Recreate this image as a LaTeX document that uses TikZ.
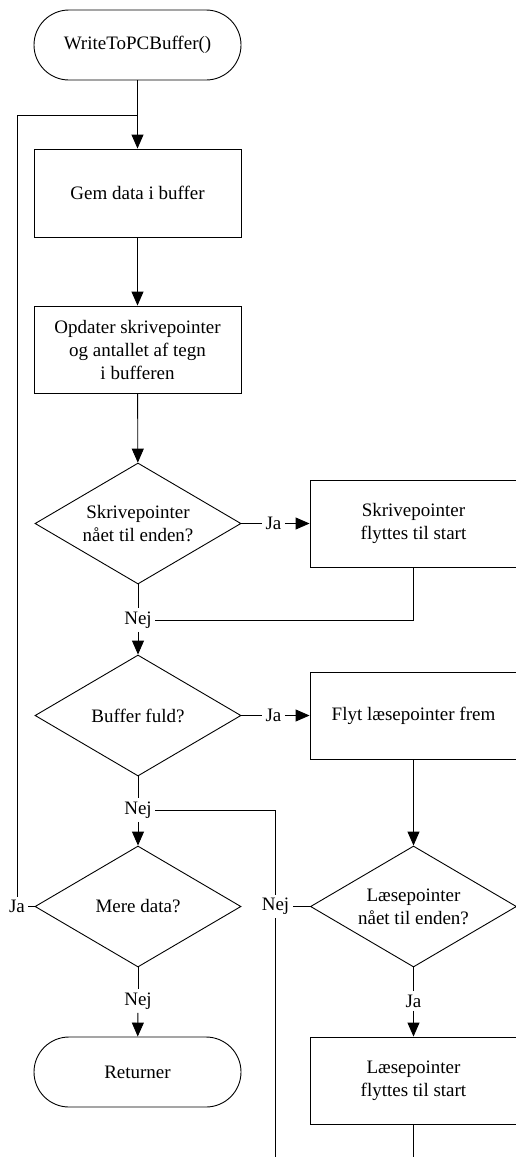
\documentclass[tikz,border=0pt]{standalone}
\usepackage{fontspec}
\setmainfont{Liberation Serif}
\usetikzlibrary{shapes.geometric,arrows.meta}

\tikzset{
    every node/.style={font=\fontsize{19}{23}\selectfont},
    term/.style={draw, rounded corners=35pt, minimum width=207pt, minimum height=70pt, align=center},
    proc/.style={draw, rectangle, minimum width=207pt, minimum height=87pt, align=center},
    decision/.style={draw, diamond, shape aspect=1.7, inner sep=0pt, minimum width=206pt, minimum height=121pt, align=center},
    lbl/.style={inner sep=3pt},
    flow/.style={-{Triangle[length=14pt,width=12pt]}}
}

\begin{document}
\begin{tikzpicture}[x=1pt, y=-1pt, line width=0.9pt]
    \useasboundingbox (0,0) rectangle (516,1157);
    \clip (0,0) rectangle (516,1157);

    \node[term] (start) at (137.5,45) {WriteToPCBuffer()};
    \node[proc, minimum height=88pt] (gem) at (137.5,193) {Gem data i buffer};
    \node[proc] (opd) at (137.5,349.5) {Opdater skrivepointer\\og antallet af tegn\\i bufferen};
    \node[decision] (skrend) at (138,523.5) {Skrivepointer\\nået til enden?};
    \node[proc] (skrstart) at (413.5,523.5) {Skrivepointer\\flyttes til start};
    \node[decision] (fuld) at (138,715.5) {Buffer fuld?};
    \node[proc] (flyt) at (413.5,715.5) {Flyt læsepointer frem};
    \node[decision] (mere) at (138,906.5) {Mere data?};
    \node[decision] (laeend) at (413.5,906.5) {Læsepointer\\nået til enden?};
    \node[term] (retur) at (137.5,1072) {Returner};
    \node[proc] (laestart) at (413.5,1080.5) {Læsepointer\\flyttes til start};

    \node[lbl] (ja1) at (273.5,523.5) {Ja};
    \node[lbl] (nej1) at (138,620) {Nej};
    \node[lbl] (ja2) at (273.5,715.5) {Ja};
    \node[lbl] (nej2) at (138,810) {Nej};
    \node[lbl] (ja3) at (17,906.5) {Ja};
    \node[lbl] (nej3) at (138,1001) {Nej};
    \node[lbl] (nej4) at (275.5,906.5) {Nej};
    \node[lbl] (ja4) at (413.5,1001) {Ja};

    \coordinate (join) at (137.5,115);
    \coordinate (endA) at (275.5,1170);
    \coordinate (endB) at (413.5,1170);

    \draw[flow] (start) -- (gem);
    \draw[flow] (gem) -- (opd);
    \draw[flow] (opd) -- (skrend);
    \draw (skrend) -- (ja1);
    \draw[flow] (ja1) -- (skrstart);
    \draw (skrend) -- (nej1);
    \draw (skrstart.south) |- (nej1.east);
    \draw[flow] (nej1) -- (fuld);
    \draw (fuld) -- (ja2);
    \draw[flow] (ja2) -- (flyt);
    \draw (fuld) -- (nej2);
    \draw (nej2.east) -| (nej4.north);
    \draw (nej4.south) -- (endA);
    \draw[flow] (nej2) -- (mere);
    \draw (mere) -- (ja3);
    \draw (ja3.north) |- (join);
    \draw (mere) -- (nej3);
    \draw[flow] (nej3) -- (retur);
    \draw[flow] (flyt) -- (laeend);
    \draw (laeend) -- (nej4);
    \draw (laeend) -- (ja4);
    \draw[flow] (ja4) -- (laestart);
    \draw (laestart) -- (endB);
\end{tikzpicture}
\end{document}
